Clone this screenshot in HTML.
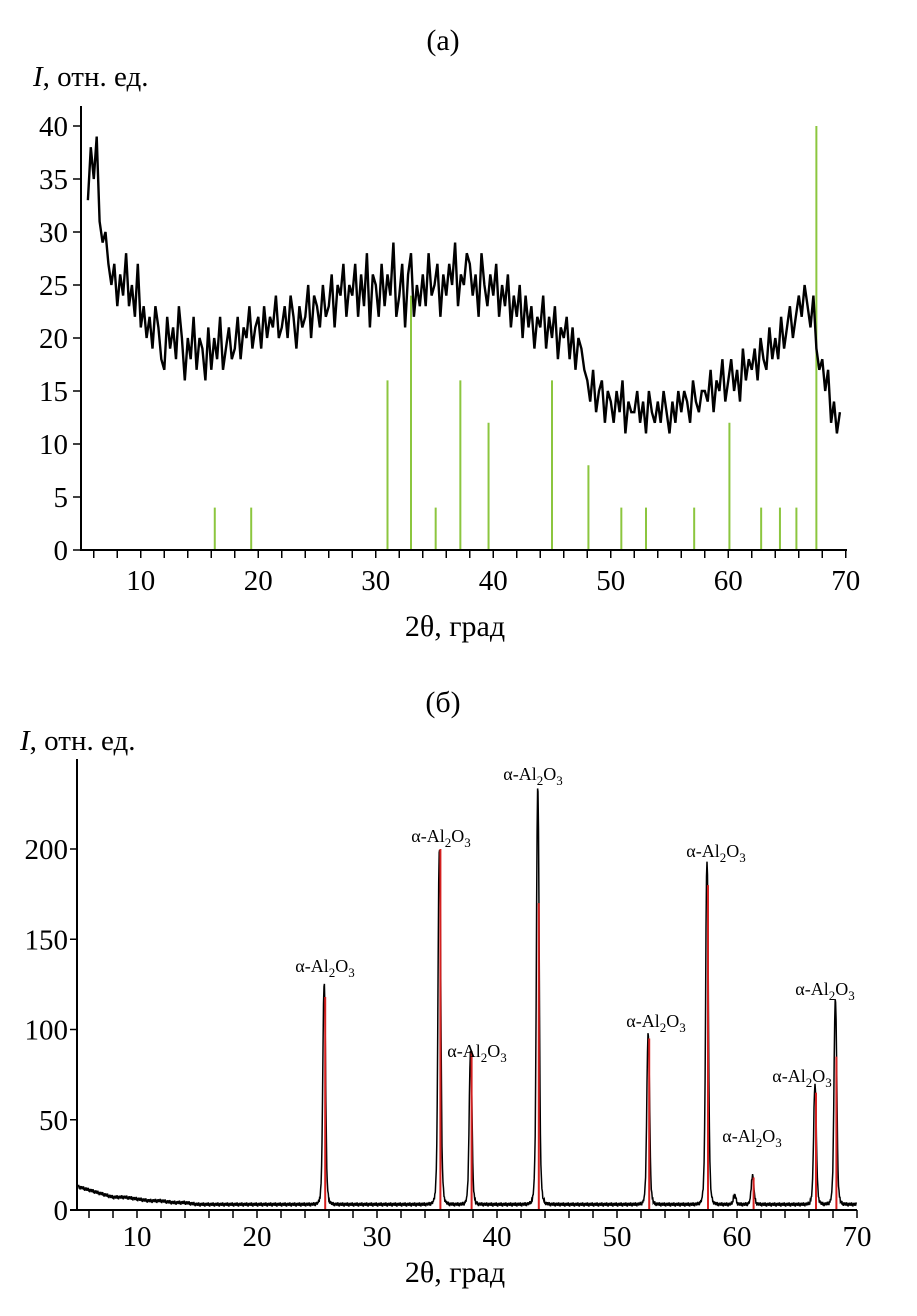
<!DOCTYPE html>
<html><head><meta charset="utf-8">
<style>
html,body{margin:0;padding:0;background:#fff;}
svg{display:block;font-family:"Liberation Serif",serif;}
</style></head>
<body>
<svg id="fig" width="917" height="1316" viewBox="0 0 917 1316" xmlns="http://www.w3.org/2000/svg">
<text x="443" y="50" font-size="30" text-anchor="middle">(а)</text>
<text x="33" y="86" font-size="29"><tspan font-style="italic">I</tspan>, отн. ед.</text>
<text x="455" y="636" font-size="30" text-anchor="middle">2θ, град</text>
<text x="443" y="712" font-size="30" text-anchor="middle">(б)</text>
<text x="20" y="750" font-size="29"><tspan font-style="italic">I</tspan>, отн. ед.</text>
<text x="455" y="1282" font-size="30" text-anchor="middle">2θ, град</text>
<g id="ga"></g>
<g id="gb"></g>
</svg>
<script>
// ---- Panel (a) data ----
const aStart = 5.5, aStep = 0.25;
const aIntensity = [33,38,35,39,31,29,30,27,
25,27,23,26,24,28,23,25,22,27,
21,23,20,22,19,23,21,18,
17,22,19,21,18,23,20,16,
20,18,22,17,20,19,16,21,
17,20,18,22,17,19,21,18,
19,22,18,21,20,23,19,21,
22,19,23,20,22,21,24,20,
21,23,20,24,22,19,23,21,
22,25,20,24,23,21,25,22,
23,26,21,25,24,27,22,25,
24,27,22,26,23,28,21,26,
25,22,27,23,26,24,29,22,
24,27,21,26,28,22,25,23,
26,23,28,24,25,27,22,26,
24,27,25,29,23,26,25,28,
27,24,26,22,28,25,23,26,
24,27,22,25,23,26,21,24,
22,25,20,24,21,23,19,22,
21,24,19,22,20,23,18,21,
20,22,18,21,17,20,19,17,
16,14,17,13,15,16,12,15,
14,12,15,13,16,11,14,13,
13,15,12,14,11,15,13,12,
14,12,15,13,11,14,12,15,
13,15,14,12,16,14,13,15,
15,14,17,13,16,15,18,14,
16,18,15,17,14,19,16,18,
17,19,16,20,18,17,21,18,
20,18,22,19,21,23,20,22,
24,22,25,23,21,24,19,17,
18,15,17,12,14,11,13];
const aSticks = [16.3,19.4,31.0,33.0,35.1,37.2,39.6,45.0,48.1,50.9,53.0,57.1,60.1,62.8,64.4,65.8,67.5];
const aStickH = [4,4,16,24,4,16,12,16,8,4,4,4,12,4,4,4,40];
const aYTicks = [0,5,10,15,20,25,30,35,40];
const aXLabels = [10,20,30,40,50,60,70];

// ---- Panel (b) data ----
const bPeakPos = [25.6,35.2,37.8,43.4,52.6,57.5,59.8,61.3,66.5,68.2];
const bPeakH   = [123,198,85,232,95,190,5,16,66,114];
const bRefH    = [118,200,88,170,95,180,0,18,65,85];
const bBgPos = [5,6,7,8,9,10,11,12,13,14,15,17,20,25,30,40,50,60,70];
const bBg    = [13,11,9,7,7,6,5,5,4,4,3,3,3,3,3,3,3,3,3];
const bYTicks = [0,50,100,150,200];
const bXLabels = [10,20,30,40,50,60,70];
const bLabelX = [325,441,477,533,656,716,752,802,825];
const bLabelY = [972,842,1057,780,1027,857,1142,1082,995];

const NS="http://www.w3.org/2000/svg";
function mk(tag,attrs,parent){const e=document.createElementNS(NS,tag);for(const k in attrs)e.setAttribute(k,attrs[k]);parent.appendChild(e);return e;}

// ---- draw panel a ----
const ga=document.getElementById('ga');
const ax=v=>82+(v-5)*11.75, ay=v=>550-v*10.6;
aSticks.forEach((p,i)=>{
  const l=mk('line',{x1:ax(p),x2:ax(p),y1:ay(0),y2:ay(aStickH[i]),stroke:'#8cc63f','stroke-width':2},ga);
  
  
});
let d='';
aIntensity.forEach((v,i)=>{d+=(i?'L':'M')+ax(aStart+i*aStep).toFixed(1)+','+ay(v).toFixed(1);});
const pa=mk('path',{d:d,fill:'none',stroke:'#000','stroke-width':2.4,'stroke-linejoin':'miter'},ga);


mk('line',{x1:81,x2:81,y1:106,y2:551,stroke:'#000','stroke-width':2},ga);
mk('line',{x1:80,x2:847,y1:550,y2:550,stroke:'#000','stroke-width':2},ga);
aYTicks.forEach(v=>{
  mk('line',{x1:73,x2:81,y1:ay(v),y2:ay(v),stroke:'#000','stroke-width':1.5},ga);
  const t=mk('text',{x:68,y:ay(v)+10,'font-size':29,'text-anchor':'end'},ga);t.textContent=v;
  
  
});
for(let v=6;v<=70;v+=2){mk('line',{x1:ax(v),x2:ax(v),y1:550,y2:558,stroke:'#000','stroke-width':1.5},ga);}
aXLabels.forEach(v=>{const t=mk('text',{x:ax(v),y:590,'font-size':29,'text-anchor':'middle'},ga);t.textContent=v;
  
  });

// ---- draw panel b ----
const gb=document.getElementById('gb');
const bx=v=>77+(v-5)*12, by=v=>1210-v*1.805;
function bg(x){for(let i=0;i<bBgPos.length-1;i++){if(x<=bBgPos[i+1]){const t=(x-bBgPos[i])/(bBgPos[i+1]-bBgPos[i]);return bBg[i]+t*(bBg[i+1]-bBg[i]);}}return bBg[bBg.length-1];}
const wig=[0,1.2,-0.8,0.6,-1.1,0.9,-0.4,1.0,-0.7,0.3];
let db='';
let k=0;
for(let x=5.1;x<=69.95;x+=0.04,k++){
  let y=bg(x)+wig[k%wig.length];
  bPeakPos.forEach((p,i)=>{const w=0.15;const u=(x-p)/w;y+=bPeakH[i]/(1+u*u*u*u*0.8+u*u*0.6);});
  db+=(k?'L':'M')+bx(x).toFixed(1)+','+by(y).toFixed(1);
}
const pb=mk('path',{d:db,fill:'none',stroke:'#000','stroke-width':1.5},gb);


bPeakPos.forEach((p,i)=>{if(!bRefH[i])return;
  const l=mk('line',{x1:bx(p)+1,x2:bx(p)+1,y1:by(0),y2:by(bRefH[i]),stroke:'#d42020','stroke-width':2},gb);
  
  
});
mk('line',{x1:77,x2:77,y1:759,y2:1211,stroke:'#000','stroke-width':2},gb);
mk('line',{x1:70,x2:857,y1:1210,y2:1210,stroke:'#000','stroke-width':2},gb);
bYTicks.forEach(v=>{
  mk('line',{x1:70,x2:77,y1:by(v),y2:by(v),stroke:'#000','stroke-width':1.5},gb);
  const t=mk('text',{x:68,y:by(v)+10,'font-size':29,'text-anchor':'end'},gb);t.textContent=v;
  
  
});
for(let v=6;v<=70;v+=2){mk('line',{x1:bx(v),x2:bx(v),y1:1210,y2:1218,stroke:'#000','stroke-width':1.5},gb);}
bXLabels.forEach(v=>{const t=mk('text',{x:bx(v),y:1246,'font-size':29,'text-anchor':'middle'},gb);t.textContent=v;
  
  });
bLabelX.forEach((x,i)=>{
  const t=mk('text',{x:x,y:bLabelY[i],'font-size':18,'text-anchor':'middle'},gb);
  t.innerHTML='α-Al<tspan dy="5" font-size="13">2</tspan><tspan dy="-5">O</tspan><tspan dy="5" font-size="13">3</tspan>';
  
  
});
</script>
</body></html>
